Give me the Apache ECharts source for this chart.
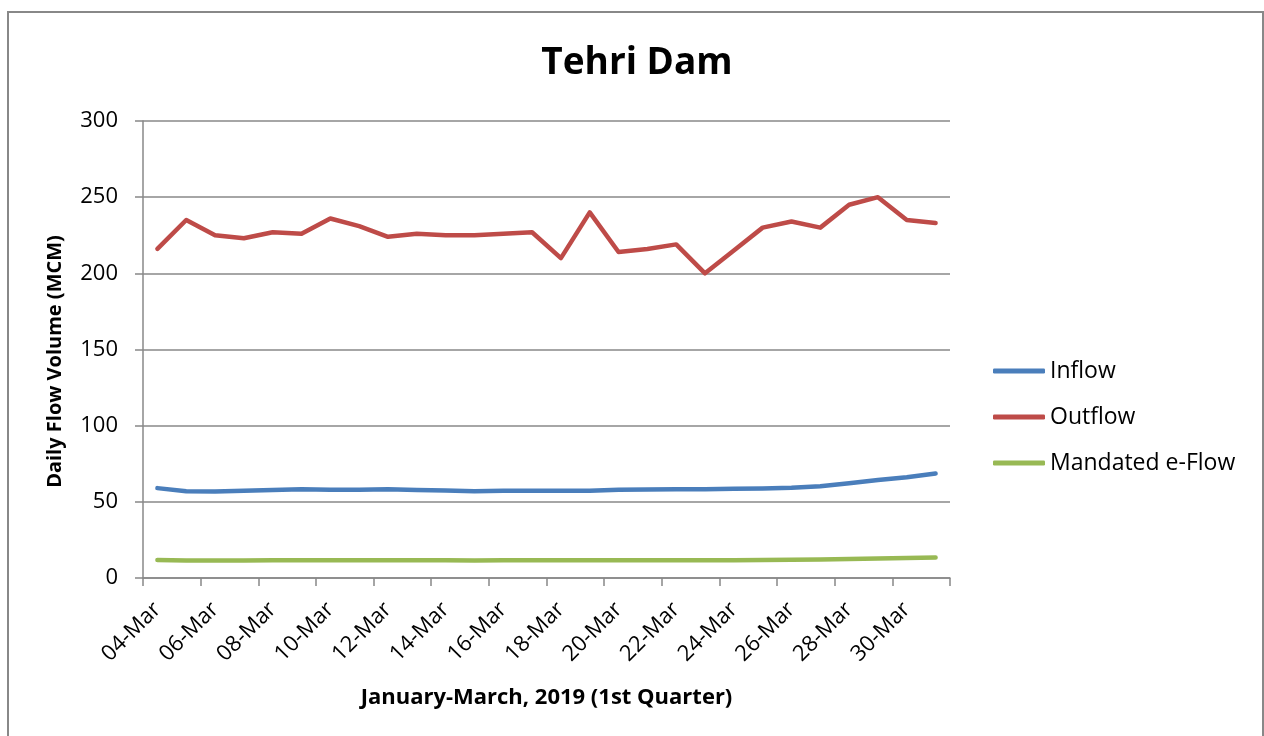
<!DOCTYPE html>
<html>
<head>
<meta charset="utf-8">
<script src="https://cdn.jsdelivr.net/npm/echarts@6/dist/echarts.min.js"></script>
<style>
html,body{margin:0;padding:0;background:#fff;}
#chart{width:1264px;height:736px;}
</style>
</head>
<body>
<div id="chart"></div>
<script>
const categories = ['04-Mar','05-Mar','06-Mar','07-Mar','08-Mar','09-Mar','10-Mar','11-Mar','12-Mar','13-Mar','14-Mar','15-Mar','16-Mar','17-Mar','18-Mar','19-Mar','20-Mar','21-Mar','22-Mar','23-Mar','24-Mar','25-Mar','26-Mar','27-Mar','28-Mar','29-Mar','30-Mar','31-Mar'];
const inflow = [59, 57, 56.8, 57.3, 57.8, 58.3, 58, 58, 58.3, 57.8, 57.5, 57, 57.2, 57.2, 57.2, 57.2, 57.9, 58.1, 58.2, 58.3, 58.6, 58.8, 59.3, 60.3, 62.2, 64.3, 66.2, 68.6];
const outflow = [216, 235, 225, 223, 227, 226, 236, 231, 224, 226, 225, 225, 226, 227, 210, 240, 214, 216, 219, 200, 215, 230, 234, 230, 245, 250, 235, 233];
const eflow = [11.8, 11.5, 11.5, 11.5, 11.6, 11.7, 11.6, 11.6, 11.7, 11.6, 11.6, 11.5, 11.6, 11.6, 11.6, 11.6, 11.7, 11.7, 11.7, 11.7, 11.7, 11.8, 11.9, 12.1, 12.4, 12.8, 13.1, 13.4];
const seriesNames = ['Inflow', 'Outflow', 'Mandated e-Flow'];
const colors = ['#4A7EBB', '#BE4B48', '#98B954'];
const yTicks = [0, 50, 100, 150, 200, 250, 300];

const chart = echarts.init(document.getElementById('chart'));
const font = '"Open Sans", sans-serif';
const dataList = [inflow, outflow, eflow];
chart.setOption({
  backgroundColor: '#fff',
  animation: false,
  title: {
    text: 'Tehri Dam',
    left: 632, top: 40, textAlign: 'center',
    textStyle: {fontFamily: font, fontWeight: 'bold', fontSize: 37, color: '#000'}
  },
  graphic: [{
    type: 'rect', silent: true,
    shape: {x: 8, y: 12, width: 1255, height: 740},
    style: {fill: 'none', stroke: '#888', lineWidth: 2}
  }],
  legend: {
    orient: 'vertical', left: 988, top: 353, icon: 'roundRect',
    itemWidth: 52, itemHeight: 5, itemGap: 20,
    data: seriesNames,
    textStyle: {fontFamily: font, fontSize: 23, color: '#000', lineHeight: 26}
  },
  grid: {left: 143, right: 314, top: 121, bottom: 158, containLabel: false},
  xAxis: {
    type: 'category', data: categories, boundaryGap: true,
    name: 'January-March, 2019 (1st Quarter)', nameLocation: 'middle', nameGap: 109,
    nameTextStyle: {fontFamily: font, fontWeight: 'bold', fontSize: 22, color: '#000'},
    axisLine: {lineStyle: {color: '#888', width: 1.5}},
    axisTick: {show: true, interval: 1, length: 8, lineStyle: {color: '#888', width: 1.5}},
    axisLabel: {interval: 1, rotate: 45, margin: 28, padding: [14, 0, 0, 0], fontFamily: font, fontSize: 22, color: '#000'},
    splitLine: {show: false}
  },
  yAxis: {
    type: 'value', min: yTicks[0], max: yTicks[yTicks.length - 1], interval: 50,
    name: 'Daily Flow Volume (MCM)', nameLocation: 'middle', nameGap: 78,
    nameTextStyle: {fontFamily: font, fontWeight: 'bold', fontSize: 20, color: '#000', padding: [0, 24, 0, 0]},
    axisLine: {show: true, lineStyle: {color: '#888', width: 1.5}},
    axisTick: {show: true, length: 8, lineStyle: {color: '#888', width: 1.5}},
    axisLabel: {margin: 25, fontFamily: font, fontSize: 22, color: '#000'},
    splitLine: {lineStyle: {color: '#888', width: 1.5}}
  },
  series: seriesNames.map((n, i) => ({
    name: n, type: 'line', data: dataList[i], symbol: 'none', smooth: false,
    color: colors[i],
    lineStyle: {width: 4.5, color: colors[i], cap: 'round', join: 'round'}
  }))
});
</script>
</body>
</html>
